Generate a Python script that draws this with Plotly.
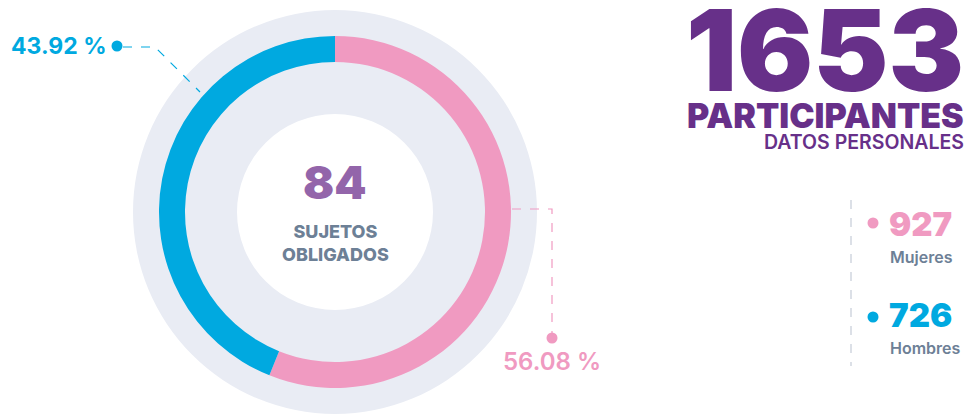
import plotly.graph_objects as go

# ---- data ----
categories = ["Mujeres", "Hombres"]
counts = [927, 726]
colors = ["#F09AC1", "#00A9E0"]
total_participants = sum(counts)
subjects = 84
title_main = "PARTICIPANTES"
title_sub = "DATOS PERSONALES"
center_label = "SUJETOS<br>OBLIGADOS"

W, H = 973, 417
CX, CY = 335, 212          # donut centre in pixels
R_BG, R_BG_HOLE = 202, 98   # gray background ring
R_OUT, R_IN = 176, 150      # coloured ring

def dom(r):
    return dict(x=[(CX - r) / W, (CX + r) / W], y=[1 - (CY + r) / H, 1 - (CY - r) / H])

pct = [c / total_participants * 100 for c in counts]

fig = go.Figure()
fig.add_trace(go.Pie(values=[1], labels=["bg"], hole=R_BG_HOLE / R_BG, domain=dom(R_BG),
                     marker=dict(colors=["#E9ECF4"], line=dict(width=0)), textinfo="none",
                     hoverinfo="skip", sort=False, showlegend=False))
fig.add_trace(go.Pie(values=counts, labels=categories, hole=R_IN / R_OUT, domain=dom(R_OUT),
                     marker=dict(colors=colors, line=dict(width=0)), textinfo="none",
                     direction="clockwise", rotation=0, sort=False, hoverinfo="label+value",
                     showlegend=False))

FONT = "Inter"
GRAY = "#6D8096"
PURPLE = "#673089"

# leader lines
line_blue = dict(type="path", path="M 123 47 L 155 47 L 200 92", xref="x", yref="y",
                 line=dict(color=colors[1], width=1.2, dash="dash"))
line_pink = dict(type="path", path="M 512 209 L 552 209 L 552 336", xref="x", yref="y",
                 line=dict(color=colors[0], width=1.2, dash="dash"))
sep = dict(type="line", x0=851, x1=851, y0=200, y1=366, xref="x", yref="y",
           line=dict(color="#C5CCD8", width=1.2, dash="dash"))
fig.update_layout(shapes=[line_blue, line_pink, sep])

# dots
fig.add_trace(go.Scatter(x=[117, 552, 873, 873], y=[46, 338, 223, 317], mode="markers",
                         marker=dict(size=11, color=[colors[1], colors[0], colors[0], colors[1]]),
                         hoverinfo="skip", showlegend=False, cliponaxis=False))

ann = []
def A(text, x, y, size, color, weight=700, xanchor="left"):
    ann.append(dict(text=text, x=x, y=y, xref="x", yref="y", showarrow=False,
                    xanchor=xanchor, yanchor="middle", borderpad=0,
                    font=dict(family=FONT, size=size, color=color, weight=weight)))

A(f"{pct[1]:.2f} %", 10, 46, 23, colors[1], 700)
A(f"{pct[0]:.2f} %", 502, 361, 24, colors[0], 600)
A(str(subjects), CX, 182, 46, "#9365AA", 900, "center")
ann.append(dict(text=center_label, x=CX, y=243, xref="x", yref="y", showarrow=False,
                xanchor="center", yanchor="middle", borderpad=0,
                font=dict(family=FONT, size=18, color=GRAY, weight=800)))
A(str(total_participants), 965, 50, 113, PURPLE, 900, "right")
A(title_main, 965, 115, 34, PURPLE, 900, "right")
A(title_sub, 965, 142, 19.5, PURPLE, 600, "right")
A(str(counts[0]), 888, 224, 33, colors[0], 900)
A(categories[0], 889, 257, 16, GRAY, 600)
A(str(counts[1]), 888, 315, 33, colors[1], 900)
A(categories[1], 889, 348, 16, GRAY, 600)

fig.update_layout(
    annotations=ann,
    width=W, height=H,
    margin=dict(l=0, r=0, t=0, b=0),
    paper_bgcolor="white", plot_bgcolor="rgba(0,0,0,0)",
    xaxis=dict(range=[0, W], visible=False, domain=[0, 1], fixedrange=True),
    yaxis=dict(range=[H, 0], visible=False, domain=[0, 1], fixedrange=True),
    showlegend=False,
)
fig.write_html("out.html", config={"displayModeBar": False},
               post_script="document.body.style.margin='0';document.body.style.overflow='hidden';")
